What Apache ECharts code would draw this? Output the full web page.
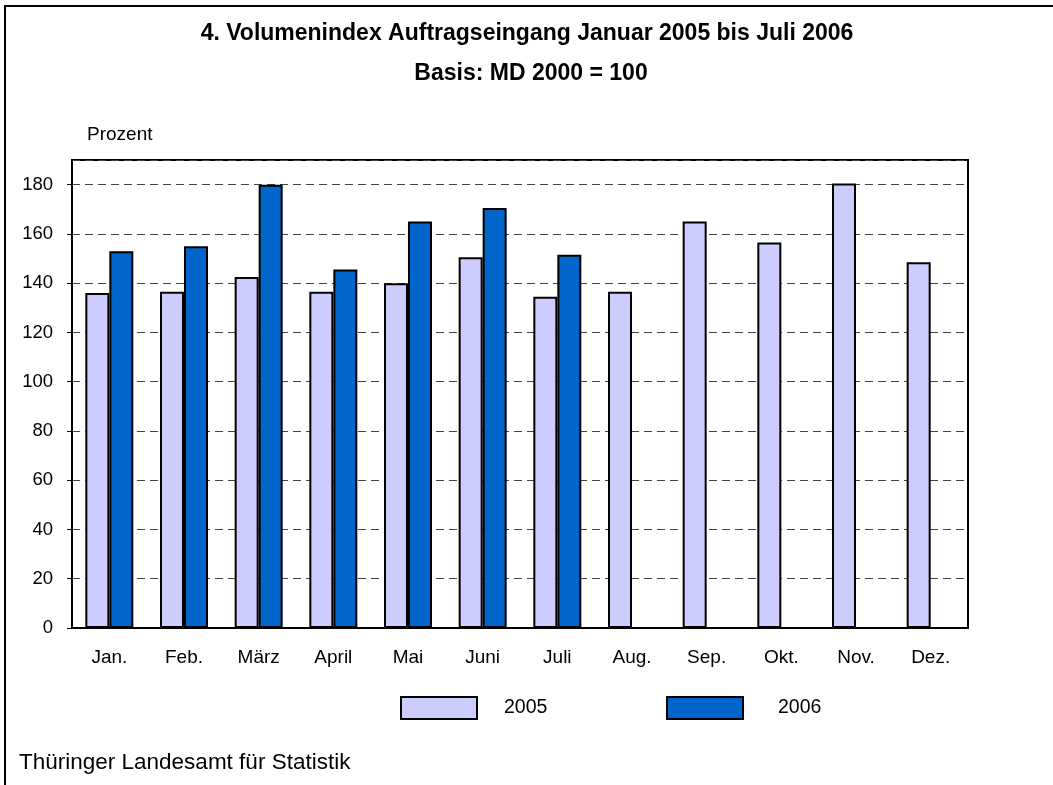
<!DOCTYPE html>
<html>
<head>
<meta charset="utf-8">
<script src="https://cdn.jsdelivr.net/npm/echarts@6/dist/echarts.min.js"></script>
<style>html,body{margin:0;padding:0;background:#fff;}#c{width:1053px;height:785px;}</style>
</head>
<body>
<div id="c"></div>
<script>
var categories = ['Jan.', 'Feb.', 'März', 'April', 'Mai', 'Juni', 'Juli', 'Aug.', 'Sep.', 'Okt.', 'Nov.', 'Dez.'];
var values2005 = [136, 136.5, 142.5, 136.5, 140, 150.5, 134.5, 136.5, 165, 156.5, 180.5, 148.5];
var values2006 = [153, 155, 180, 145.5, 165, 170.5, 151.5, null, null, null, null, null];
var yTicks = { min: 0, max: 190, interval: 20 };

var FONT = '"Liberation Sans", Arial, sans-serif';
var chart = echarts.init(document.getElementById('c'), null, { renderer: 'canvas' });
chart.setOption({
  animation: false,
  backgroundColor: '#fff',
  title: [
    { text: '4. Volumenindex Auftragseingang Januar 2005 bis Juli 2006', left: 527, top: 22, textAlign: 'center', padding: 0,
      textStyle: { fontFamily: FONT, fontSize: 23, fontWeight: 'bold', color: '#000' } },
    { text: 'Basis: MD 2000 = 100', left: 531, top: 62, textAlign: 'center', padding: 0,
      textStyle: { fontFamily: FONT, fontSize: 23, fontWeight: 'bold', color: '#000' } },
    { text: 'Prozent', left: 87, top: 125, padding: 0,
      textStyle: { fontFamily: FONT, fontSize: 19, fontWeight: 'normal', color: '#000' } },
    { text: 'Thüringer Landesamt für Statistik', left: 19, top: 751, padding: 0,
      textStyle: { fontFamily: FONT, fontSize: 22.5, fontWeight: 'normal', color: '#000' } }
  ],
  legend: [
    { data: ['2005'], left: 400, top: 696, padding: 0, itemWidth: 76, itemHeight: 22, icon: 'rect',
      textStyle: { fontFamily: FONT, fontSize: 19.5, color: '#000', padding: [0, 0, 0, 22] } },
    { data: ['2006'], left: 666, top: 696, padding: 0, itemWidth: 76, itemHeight: 22, icon: 'rect',
      textStyle: { fontFamily: FONT, fontSize: 19.5, color: '#000', padding: [0, 0, 0, 30] } }
  ],
  grid: { left: 72, right: 85, top: 160, bottom: 157, show: true, borderColor: '#000', borderWidth: 2, containLabel: false },
  xAxis: {
    type: 'category', data: categories,
    axisLine: { lineStyle: { color: '#000', width: 2 } },
    axisTick: { show: false },
    axisLabel: { fontFamily: FONT, fontSize: 19, color: '#000', margin: 20 }
  },
  yAxis: {
    type: 'value', min: yTicks.min, max: yTicks.max, interval: yTicks.interval,
    axisLine: { show: true, lineStyle: { color: '#000', width: 2 } },
    axisTick: { show: true, length: 5, lineStyle: { color: '#000', width: 1 } },
    axisLabel: { fontFamily: FONT, fontSize: 18.5, color: '#000', margin: 19, showMaxLabel: false },
    splitLine: { show: true, lineStyle: { color: '#444', width: 1, type: [8, 5] } }
  },
  series: [
    { name: '2005', type: 'bar', data: values2005, barWidth: 24, barGap: '0%',
      itemStyle: { color: '#CCCCFF', borderColor: '#000', borderWidth: 2 } },
    { name: '2006', type: 'bar', data: values2006, barWidth: 24, barGap: '0%',
      itemStyle: { color: '#0066CC', borderColor: '#000', borderWidth: 2 } }
  ],
  graphic: [
    { type: 'line', shape: { x1: 4, y1: 6, x2: 1053, y2: 6 }, style: { stroke: '#000', lineWidth: 2 } },
    { type: 'line', shape: { x1: 5, y1: 5, x2: 5, y2: 785 }, style: { stroke: '#000', lineWidth: 2 } }
  ]
});
</script>
</body>
</html>
